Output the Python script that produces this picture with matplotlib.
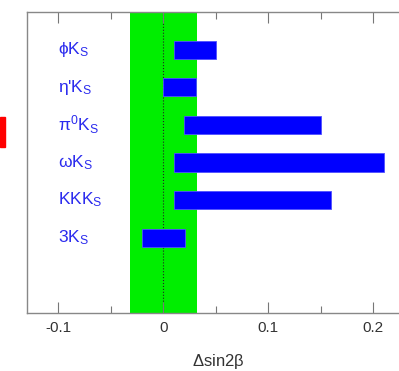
import matplotlib.pyplot as plt
from matplotlib.patches import Rectangle

plt.rcParams['font.family'] = ['Liberation Sans', 'DejaVu Sans']
plt.rcParams['mathtext.default'] = 'regular'

# channels, top to bottom
channels = [r'$\phi$K$_S$', r"$\eta$'K$_S$", r'$\pi^0$K$_S$',
            r'$\omega$K$_S$', r'KKK$_S$', r'3K$_S$']
low = [0.010, 0.0, 0.020, 0.010, 0.010, -0.020]
high = [0.050, 0.031, 0.150, 0.210, 0.160, 0.021]
band = [-0.032, 0.032]

fig = plt.figure(figsize=(3.99, 3.71), dpi=100)
ax = fig.add_axes([27/399, 58/371, 383/399, 301/371])

ypos = list(range(len(channels), 0, -1))
ax.axvspan(band[0], band[1], color='#00ee00', zorder=0, lw=0)
ax.axvline(0, color='#222222', ls=':', lw=0.8, zorder=1)
widths = [h - l for l, h in zip(low, high)]
ax.barh(ypos, widths, left=low, height=0.48, color='#0000ff',
        edgecolor='#5050ff', lw=0.6, zorder=2)

for y, name in zip(ypos, channels):
    ax.text(-0.1, y, name, color='#2a2aee', fontsize=12.5,
            va='center', ha='left')

ax.set_xlim(-0.13, 0.235)
ax.set_ylim(-1, 7)
ax.set_xticks([-0.1, 0, 0.1, 0.2])
ax.set_xticklabels(['-0.1', '0', '0.1', '0.2'])
ax.set_xticks([-0.05, 0.05, 0.15], minor=True)
ax.set_yticks([])
ax.tick_params(axis='x', which='major', direction='in', top=True,
               length=8, width=0.8, color='#777777', labelsize=11,
               labelcolor='#333333', pad=6)
ax.tick_params(axis='x', which='minor', direction='in', top=True,
               length=5, width=0.8, color='#777777')
for s in ax.spines.values():
    s.set_color('#888888')
    s.set_linewidth(1.0)
ax.set_xlabel(r'$\Delta$sin2$\beta$', fontsize=12, color='#333333',
              labelpad=12)

# piece of neighbouring plot at left edge
fig.patches.append(Rectangle((0, 224/371), 5/399, 30/371,
                             transform=fig.transFigure, color='#ff0000'))

fig.savefig('out.png', dpi=100)
